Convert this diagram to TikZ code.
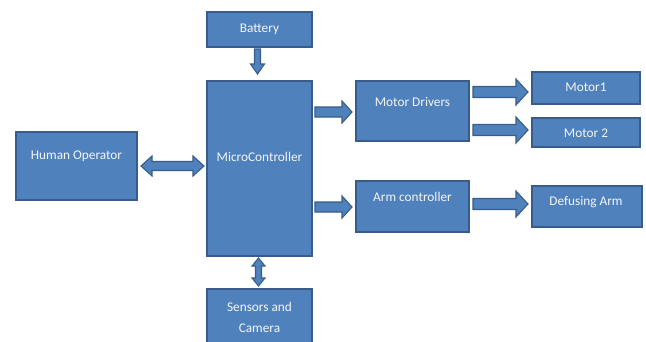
\documentclass[tikz,border=0pt]{standalone}
\usepackage{fontspec}
\setmainfont{Carlito}
\usetikzlibrary{calc}
\definecolor{boxfill}{RGB}{79,129,189}
\definecolor{boxline}{RGB}{56,93,138}
\definecolor{boxtext}{RGB}{245,245,245}

% single block arrow: start, end, shaft half width, head half width, head length
\newcommand\onearrow[5]{%
  \coordinate (arA) at (#1);
  \coordinate (arB) at (#2);
  \coordinate (arH) at ($(arB)!#5!(arA)$);
  \draw[blk] ($(arA)!#3!90:(arB)$) -- ($(arH)!#3!90:(arB)$) -- ($(arH)!#4!90:(arB)$)
    -- (arB) -- ($(arH)!#4!-90:(arB)$) -- ($(arH)!#3!-90:(arB)$)
    -- ($(arA)!#3!-90:(arB)$) -- cycle;}

% double-headed block arrow: same arguments
\newcommand\twoarrow[5]{%
  \coordinate (arA) at (#1);
  \coordinate (arB) at (#2);
  \coordinate (arH) at ($(arA)!#5!(arB)$);
  \coordinate (arK) at ($(arB)!#5!(arA)$);
  \draw[blk] (arA) -- ($(arH)!#4!90:(arB)$) -- ($(arH)!#3!90:(arB)$)
    -- ($(arK)!#3!90:(arB)$) -- ($(arK)!#4!90:(arB)$) -- (arB)
    -- ($(arK)!#4!-90:(arB)$) -- ($(arK)!#3!-90:(arB)$)
    -- ($(arH)!#3!-90:(arB)$) -- ($(arH)!#4!-90:(arB)$) -- cycle;}

\tikzset{
  blk/.style={fill=boxfill, draw=boxline, line width=1.1pt, line join=miter},
  box/.style={rectangle, fill=boxfill, draw=boxline, line width=1.6pt,
    inner sep=0pt, outer sep=0pt},
  txt/.style={text=boxtext, font=\fontsize{13.3}{21}\selectfont, inner sep=0pt,
    align=center}
}

\begin{document}
\begin{tikzpicture}[x=1pt, y=-1pt]
\clip (0,0) rectangle (646,341);
\fill[white] (0,0) rectangle (646,341);

% blocks
\node[box, minimum width=105pt, minimum height=35pt]  (bat) at (259.5,29.5) {};
\node[box, minimum width=105pt, minimum height=175pt] (mc)  at (259.5,168.5) {};
\node[box, minimum width=121pt, minimum height=68pt]  (ho)  at (76.5,166) {};
\node[box, minimum width=105pt, minimum height=62pt]  (sc)  at (259.5,320) {};
\node[box, minimum width=113pt, minimum height=60pt]  (md)  at (412.5,111) {};
\node[box, minimum width=113pt, minimum height=51pt]  (ac)  at (412.5,206.5) {};
\node[box, minimum width=108pt, minimum height=32pt]  (m1)  at (586,88) {};
\node[box, minimum width=108pt, minimum height=29pt]  (m2)  at (586,132.5) {};
\node[box, minimum width=110pt, minimum height=41pt]  (da)  at (587,206.5) {};

% labels
\node[txt] (bat-t) at (259.5,29.5) {Battery};
\node[txt] (mc-t)  at (259.5,157) {MicroController};
\node[txt] (ho-t)  at (76.5,156) {Human Operator};
\node[txt] (sc-t)  at (259.5,317.5) {Sensors and\\Camera};
\node[txt] (md-t)  at (412.5,102) {Motor Drivers};
\node[txt] (ac-t)  at (412.5,197) {Arm controller};
\node[txt] (m1-t)  at (586,87) {Motor1};
\node[txt] (m2-t)  at (586,133) {Motor 2};
\node[txt] (da-t)  at (586,202) {Defusing Arm};

% connectors
\onearrow{$(bat.south)+(-2,2)$}{$(mc.north)+(-2,-7)$}{3pt}{7pt}{10pt}
\twoarrow{$(ho.east)+(4,0)$}{$(mc.west |- ho.east)+(-3,0)$}{4.5pt}{10pt}{11pt}
\twoarrow{$(mc.south)+(-1,2)$}{$(sc.north)+(-1,-3)$}{3pt}{6.5pt}{8pt}
\onearrow{$(mc.east |- md.west)+(3,1)$}{$(md.west)+(-4,1)$}{5pt}{11pt}{10pt}
\onearrow{$(mc.east |- ac.west)+(3,0.5)$}{$(ac.west)+(-4,0.5)$}{5pt}{11pt}{10pt}
\onearrow{$(md.east |- m1.west)+(4,4)$}{$(m1.west)+(-4,4)$}{5.5pt}{13pt}{12pt}
\onearrow{$(md.east |- m2.west)+(4,-2.5)$}{$(m2.west)+(-4,-2.5)$}{5.5pt}{13pt}{12pt}
\onearrow{$(ac.east |- da.west)+(4,-2.5)$}{$(da.west)+(-4,-2.5)$}{5.5pt}{13pt}{12pt}
\end{tikzpicture}
\end{document}
